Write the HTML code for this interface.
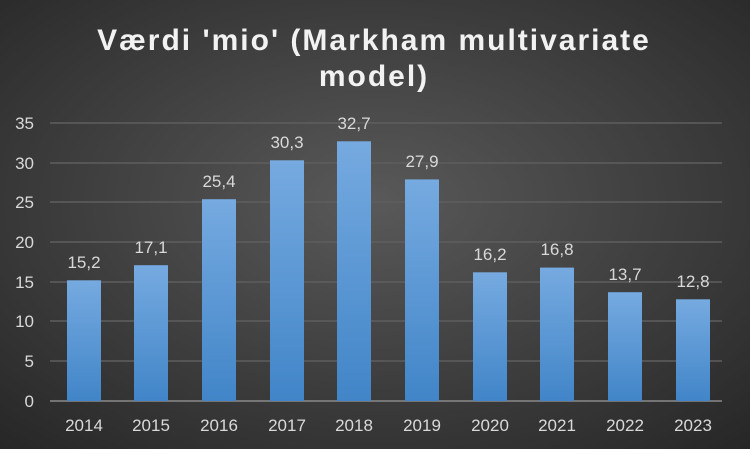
<!DOCTYPE html>
<html><head><style>
body{margin:0;width:750px;height:449px;overflow:hidden}
</style></head><body>
<svg width="750" height="449" xmlns="http://www.w3.org/2000/svg" font-family="Liberation Sans, sans-serif">
<defs>
<radialGradient id="bg" cx="0.5" cy="0.45" r="0.75">
<stop offset="0" stop-color="#595959"/><stop offset="1" stop-color="#262626"/>
</radialGradient>
<linearGradient id="bar" x1="0" y1="0" x2="0" y2="1">
<stop offset="0" stop-color="#76aae0"/><stop offset="1" stop-color="#4185c8"/>
</linearGradient>
</defs>
<rect width="750" height="449" fill="url(#bg)"/>
<text x="374" y="50" text-anchor="middle" font-size="30" font-weight="bold" fill="#f2f2f2" letter-spacing="2">Værdi 'mio' (Markham multivariate</text>
<text x="374" y="86" text-anchor="middle" font-size="30" font-weight="bold" fill="#f2f2f2" letter-spacing="2">model)</text>
<g stroke="#5e5e5e" stroke-width="1.5">
<line x1="50" x2="722" y1="123" y2="123"/><line x1="50" x2="722" y1="163" y2="163"/>
<line x1="50" x2="722" y1="202" y2="202"/><line x1="50" x2="722" y1="242" y2="242"/>
<line x1="50" x2="722" y1="282" y2="282"/><line x1="50" x2="722" y1="321" y2="321"/>
<line x1="50" x2="722" y1="361" y2="361"/>
</g>
<line x1="50" x2="722" y1="401" y2="401" stroke="#8a8a8a" stroke-width="1.5"/>
<g font-size="17" fill="#d9d9d9" text-anchor="end">
<text x="34" y="129">35</text><text x="34" y="169">30</text><text x="34" y="208">25</text>
<text x="34" y="248">20</text><text x="34" y="288">15</text><text x="34" y="327">10</text>
<text x="34" y="367">5</text><text x="34" y="407">0</text>
</g>
<g fill="url(#bar)">
<rect x="67" y="280.3" width="34" height="120.7"/>
<rect x="134" y="265.2" width="34" height="135.8"/>
<rect x="202" y="199.2" width="34" height="201.8"/>
<rect x="270" y="160.3" width="34" height="240.7"/>
<rect x="337" y="141.3" width="34" height="259.7"/>
<rect x="405" y="179.4" width="34" height="221.6"/>
<rect x="473" y="272.3" width="34" height="128.7"/>
<rect x="540" y="267.6" width="34" height="133.4"/>
<rect x="608" y="292.2" width="34" height="108.8"/>
<rect x="676" y="299.3" width="34" height="101.7"/>
</g>
<g font-size="17" fill="#d9d9d9" text-anchor="middle">
<text x="84" y="268">15,2</text><text x="151" y="253">17,1</text><text x="219" y="187">25,4</text>
<text x="287" y="148">30,3</text><text x="354" y="129">32,7</text><text x="422" y="167">27,9</text>
<text x="490" y="260">16,2</text><text x="557" y="255">16,8</text><text x="625" y="280">13,7</text>
<text x="693" y="287">12,8</text>
</g>
<g font-size="17" fill="#d9d9d9" text-anchor="middle">
<text x="84" y="431">2014</text><text x="151" y="431">2015</text><text x="219" y="431">2016</text>
<text x="287" y="431">2017</text><text x="354" y="431">2018</text><text x="422" y="431">2019</text>
<text x="490" y="431">2020</text><text x="557" y="431">2021</text><text x="625" y="431">2022</text>
<text x="693" y="431">2023</text>
</g>
</svg>
</body></html>
